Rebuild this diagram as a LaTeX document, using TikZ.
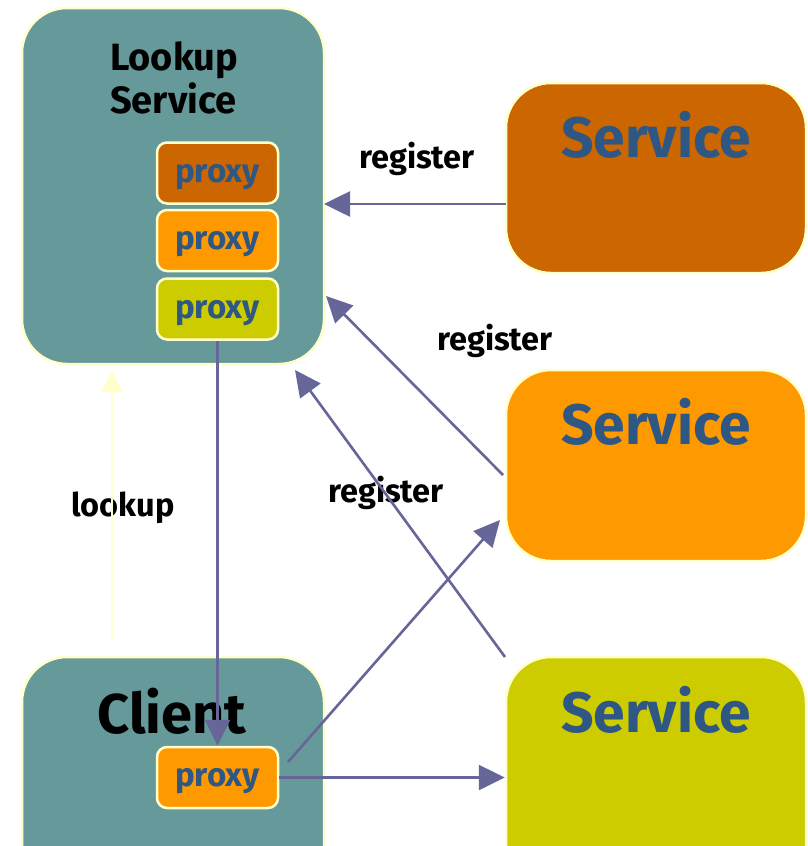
\documentclass[tikz,border=0pt]{standalone}
\usepackage{fontspec}
\setmainfont{Fira Sans}
\usetikzlibrary{arrows.meta}
\definecolor{teal}{HTML}{669999}
\definecolor{rust}{HTML}{CC6600}
\definecolor{amber}{HTML}{FF9900}
\definecolor{olive}{HTML}{CCCC00}
\definecolor{edge}{HTML}{FFFFCC}
\definecolor{ink}{HTML}{2E5784}
\definecolor{wire}{HTML}{666699}
\tikzset{
  bigbox/.style={draw=edge, line width=2.5pt, rounded corners=45pt, inner sep=0pt},
  pbox/.style={draw=edge, line width=2.5pt, rounded corners=10pt, minimum width=121pt,
    minimum height=61pt, inner sep=0pt, text height=18pt, text depth=0pt,
    font=\bfseries\fontsize{33}{33}\selectfont, text=ink},
  svctext/.style={font=\bfseries\fontsize{57}{57}\selectfont, text=ink, anchor=base},
  lbl/.style={font=\bfseries\fontsize{32.5}{32.5}\selectfont, anchor=base},
  link/.style={draw=wire, line width=2.6pt, -{Triangle[length=26pt,width=25pt]}},
  lookarrow/.style={draw=edge, line width=1.5pt, -{Triangle[length=22pt,width=22pt]}}
}
\begin{document}
\begin{tikzpicture}[x=1pt,y=-1pt]
\useasboundingbox (0,0) rectangle (808,846);
\clip (0,0) rectangle (808,846);
\fill[white] (0,0) rectangle (808,846);

% lookup service with its registered proxies
\node[bigbox, fill=teal, minimum width=302pt, minimum height=356pt] (lookup) at (173,186) {};
\node[font=\bfseries\fontsize{38}{43}\selectfont, align=left, anchor=base west, inner sep=0pt] (ltitle) at (110,113) {Lookup\\Service};
\node[pbox, fill=rust] (p1) at (217.5,173) {proxy};
\node[pbox, fill=amber] (p2) at (217.5,240.5) {proxy};
\node[pbox, fill=olive] (p3) at (217.5,309) {proxy};

% client with its downloaded proxy
\node[bigbox, fill=teal, minimum width=302pt, minimum height=260pt] (client) at (173,787) {};
\node[font=\bfseries\fontsize{56}{56}\selectfont, anchor=base] (ctitle) at (172,733) {Client};
\node[pbox, fill=amber] (cp) at (217.5,777.5) {proxy};

% services
\node[bigbox, fill=rust, minimum width=300pt, minimum height=190pt] (s1) at (656,178) {};
\node[bigbox, fill=amber, minimum width=300pt, minimum height=191pt] (s2) at (656,465.5) {};
\node[bigbox, fill=olive, minimum width=300pt, minimum height=260pt] (s3) at (656,787) {};
\node[svctext] (t1) at (656,157) {Service};
\node[svctext] (t2) at (656,444) {Service};
\node[svctext] (t3) at (656,732) {Service};

% labels
\node[lbl] (r1) at (417,168) {register};
\node[lbl] (r2) at (495,350) {register};
\node[lbl] (r3) at (386,502) {register};
\node[lbl] (lk) at (123,516) {lookup};

% connectors
\coordinate (s1out) at (506,204);
\coordinate (l1in) at (324,204);
\coordinate (s2out) at (503,475);
\coordinate (l2in) at (326,296);
\coordinate (s3out) at (505,657);
\coordinate (l3in) at (295,370);
\coordinate (cpout) at (288,762);
\coordinate (s2in) at (500,520);
\coordinate (cstart) at (112,640);
\coordinate (lkin) at (112,370);

\draw[link] (s1out) -- (l1in);
\draw[link] (s2out) -- (l2in);
\draw[link] (s3out) -- (l3in);
\draw[link] (p3.south) -- (cp.north);
\draw[link] (cpout) -- (s2in);
\draw[link] (cp.east) -- (s3.west |- cp.east);
\draw[lookarrow] (cstart) -- (lkin);
\end{tikzpicture}
\end{document}
